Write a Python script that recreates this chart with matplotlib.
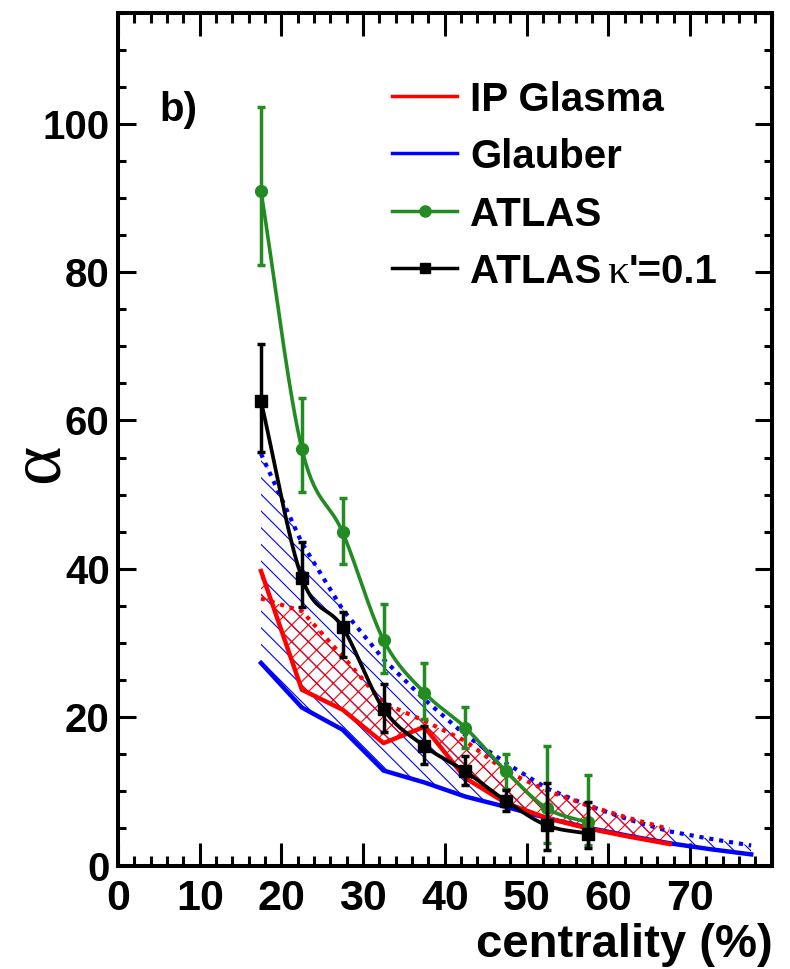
import numpy as np
import matplotlib
matplotlib.use("Agg")
import matplotlib.pyplot as plt
from matplotlib.lines import Line2D
from matplotlib.ticker import MultipleLocator

# ---------------- data ----------------
cent_atlas = [17.5, 22.5, 27.5, 32.5, 37.5, 42.5, 47.5, 52.5, 57.5]

atlas_val = [90.9, 56.2, 44.9, 30.4, 23.3, 18.6, 12.7, 7.7, 5.8]
atlas_lo = [10.0, 5.9, 4.2, 4.4, 3.5, 2.8, 2.4, 4.6, 3.0]
atlas_hi = [11.4, 6.8, 4.7, 4.9, 4.0, 2.8, 2.3, 8.4, 6.4]

kappa_val = [62.6, 38.8, 32.1, 21.1, 16.1, 12.7, 8.7, 5.4, 4.3]
kappa_lo = [6.8, 4.0, 4.0, 3.1, 2.4, 1.8, 1.4, 3.3, 2.0]
kappa_hi = [7.7, 4.8, 2.1, 3.4, 2.7, 2.1, 1.5, 5.7, 4.2]

cent_glauber = [17.5, 22.5, 27.5, 32.5, 37.5, 42.5, 47.5, 52.5, 57.5, 62.5, 67.5, 72.5, 77.5]
glauber_low = [27.3, 21.3, 18.3, 12.8, 11.2, 9.3, 7.9, 6.4, 5.1, 4.0, 3.0, 2.2, 1.5]
glauber_high = [55.5, 43.5, 34.5, 27.8, 22.4, 17.6, 13.8, 10.4, 8.1, 6.2, 4.6, 3.6, 2.7]

cent_glasma = [17.5, 22.5, 27.5, 32.5, 37.5, 42.5, 47.5, 52.5, 57.5, 62.5, 67.5]
glasma_low = [39.7, 23.7, 21.0, 16.5, 18.7, 11.8, 8.4, 6.4, 5.0, 3.9, 2.9]
glasma_high = [36.0, 34.3, 28.2, 21.9, 19.5, 16.8, 12.7, 10.1, 8.1, 6.4, 4.9]

x_ticks = [0, 10, 20, 30, 40, 50, 60, 70]
y_ticks = [0, 20, 40, 60, 80, 100]

legend_labels = ["IP Glasma", "Glauber", "ATLAS", "ATLAS"]

GREEN = "#228B22"
RED = "#FF0000"
BLUE = "#0000FF"

SANS = "Liberation Sans"
SERIF = "Liberation Serif"


def smooth(x, y, n=30):
    """Cubic Hermite curve through the points (finite-difference tangents)."""
    x = np.asarray(x, float)
    y = np.asarray(y, float)
    m = np.empty_like(y)
    m[1:-1] = (y[2:] - y[:-2]) / (x[2:] - x[:-2])
    m[0] = (y[1] - y[0]) / (x[1] - x[0])
    m[-1] = (y[-1] - y[-2]) / (x[-1] - x[-2])
    xs, ys = [], []
    for i in range(len(x) - 1):
        h = x[i + 1] - x[i]
        t = np.linspace(0, 1, n, endpoint=False)
        h00 = 2 * t**3 - 3 * t**2 + 1
        h10 = t**3 - 2 * t**2 + t
        h01 = -2 * t**3 + 3 * t**2
        h11 = t**3 - t**2
        xs.append(x[i] + t * h)
        ys.append(h00 * y[i] + h10 * h * m[i] + h01 * y[i + 1] + h11 * h * m[i + 1])
    xs.append([x[-1]])
    ys.append([y[-1]])
    return np.concatenate(xs), np.concatenate(ys)


plt.rcParams["hatch.linewidth"] = 0.8

fig = plt.figure(figsize=(7.9, 9.69), dpi=100)
ax = fig.add_axes([0.1494, 0.1068, 0.8273, 0.8803])
ax.set_xlim(0, 80)
ax.set_ylim(0, 115)

# model bands
ax.fill_between(cent_glauber, glauber_low, glauber_high, facecolor="none",
                edgecolor=BLUE, linewidth=0, hatch="\\\\", zorder=1)
ax.fill_between(cent_glasma, glasma_low, glasma_high, facecolor="none",
                edgecolor=RED, linewidth=0, hatch="xx", zorder=1.5)

dot = (0, (1.0, 1.4))
ax.plot(cent_glauber, glauber_high, color=BLUE, lw=3.0, ls=dot,
        dash_capstyle="butt", zorder=2)
ax.plot(cent_glasma, glasma_high, color=RED, lw=3.0, ls=dot,
        dash_capstyle="butt", zorder=2.1)
ax.plot(cent_glauber, glauber_low, color=BLUE, lw=3.2, zorder=3)
ax.plot(cent_glasma, glasma_low, color=RED, lw=3.2, zorder=3.1)

# ATLAS
sx, sy = smooth(cent_atlas, atlas_val)
ax.plot(sx, sy, color=GREEN, lw=2.6, zorder=4)
ax.errorbar(cent_atlas, atlas_val, yerr=[atlas_lo, atlas_hi], fmt="o",
            color=GREEN, ms=8.5, elinewidth=2.5, capsize=3, capthick=2.5,
            zorder=4.2)

# ATLAS kappa'=0.1
kx, ky = smooth(cent_atlas, kappa_val)
ax.plot(kx, ky, color="black", lw=2.7, zorder=5)
ax.errorbar(cent_atlas, kappa_val, yerr=[kappa_lo, kappa_hi], fmt="s",
            color="black", ms=8.5, elinewidth=2.5, capsize=3, capthick=2.5,
            zorder=5.2)

# axes styling
for sp in ax.spines.values():
    sp.set_linewidth(2.9)
ax.set_xticks(x_ticks)
ax.set_yticks(y_ticks)
ax.xaxis.set_minor_locator(MultipleLocator(2))
ax.yaxis.set_minor_locator(MultipleLocator(5))
ax.tick_params(axis="x", which="major", direction="in", length=16.5, width=2.2,
               top=True, bottom=True, pad=10)
ax.tick_params(axis="x", which="minor", direction="in", length=7.2, width=2.2,
               top=True, bottom=True)
ax.tick_params(axis="y", which="major", direction="in", length=12.6, width=2.2,
               left=True, right=True, pad=6)
ax.tick_params(axis="y", which="minor", direction="in", length=6.1, width=2.2,
               left=True, right=True)
ax.set_xticklabels([str(v) for v in x_ticks])
ax.set_yticklabels([str(v) for v in y_ticks])
for lab in ax.get_xticklabels():
    lab.set_fontfamily(SANS)
    lab.set_fontweight("bold")
    lab.set_fontsize(31)
for lab in ax.get_yticklabels():
    lab.set_fontfamily(SANS)
    lab.set_fontweight("bold")
    lab.set_fontsize(29)

fig.text(0.9785, 0.0124, "centrality (%)", ha="right", va="baseline",
         fontfamily=SANS, fontweight="bold", fontsize=34)
fig.text(0.0506, 0.5215, "α", rotation=90, ha="center", va="center",
         fontfamily=SERIF, fontsize=54)

ax.text(0.064, 0.886, "b)", transform=ax.transAxes, ha="left", va="center",
        fontfamily=SANS, fontweight="bold", fontsize=29)

# legend
lx0, lx1, tx = 0.419, 0.519, 0.5386
rows = [0.9021, 0.8349, 0.7676, 0.7001]
styles = [dict(color=RED, lw=2.5), dict(color=BLUE, lw=2.5),
          dict(color=GREEN, lw=2.5, marker="o", ms=8),
          dict(color="black", lw=2.5, marker="s", ms=7.5)]
for yr, lab, st in zip(rows, legend_labels, styles):
    mk = st.pop("marker", None)
    ms = st.pop("ms", None)
    ax.add_line(Line2D([lx0, lx1], [yr, yr], transform=ax.transAxes, **st))
    if mk:
        ax.add_line(Line2D([(lx0 + lx1) / 2], [yr], transform=ax.transAxes,
                           marker=mk, ms=ms, color=st["color"], lw=0))
    ax.text(tx, yr, lab, transform=ax.transAxes, ha="left", va="center_baseline",
            fontfamily=SANS, fontweight="bold", fontsize=29)
ax.text(0.749, rows[3], "κ", transform=ax.transAxes, ha="left",
        va="center_baseline", fontfamily=SERIF, fontsize=31)
ax.text(0.782, rows[3], "'=0.1", transform=ax.transAxes, ha="left",
        va="center_baseline", fontfamily=SANS, fontweight="bold", fontsize=29)

fig.savefig("out.png", dpi=100)
